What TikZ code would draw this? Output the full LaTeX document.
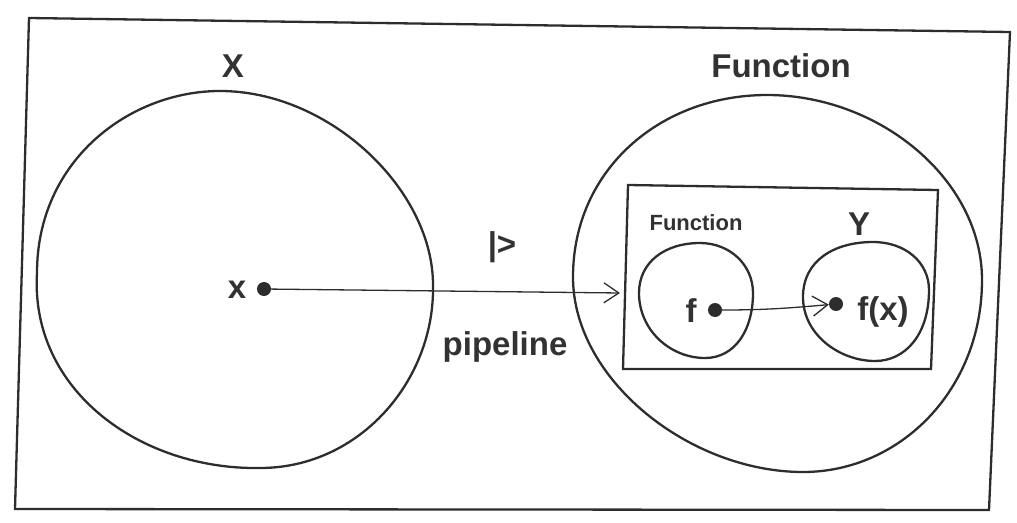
\documentclass[tikz,border=0pt]{standalone}
\usepackage{fontspec}
\setmainfont{Liberation Sans}
\usetikzlibrary{arrows.meta}
\definecolor{inkGray}{RGB}{45, 45, 45}
\definecolor{textGray}{RGB}{50, 50, 50}

\begin{document}
\begin{tikzpicture}[x=1pt, y=-1pt]
    \tikzstyle{blob} = [draw=inkGray, line width=2.3pt]
    \tikzstyle{frame} = [draw=inkGray, line width=2.3pt]
    \tikzstyle{dot} = [circle, fill=inkGray, inner sep=0pt, minimum width=13pt, minimum height=14pt]
    \tikzstyle{biglabel} = [font=\fontsize{33}{36}\selectfont\bfseries, textGray, anchor=base, inner sep=0pt]
    \tikzstyle{smalllabel} = [font=\fontsize{22}{26}\selectfont\bfseries, textGray, anchor=base, inner sep=0pt]
    \tikzstyle{arrow} = [-{Straight Barb[length=15pt, width=20pt, line width=1.3pt]}, inkGray, line width=1.3pt]

    \useasboundingbox (0,0) rectangle (1017,522);

    % Outer frame
    \draw[frame] (29,18) -- (1010,32) -- (989,510) -- (15,509) -- cycle;

    % Left set X
    \draw[blob] (220,91) .. controls (330,91) and (433,190) .. (433,285)
        .. controls (435,380) and (360,468) .. (260,468)
        .. controls (140,470) and (30,390) .. (37,273)
        .. controls (37,160) and (130,91) .. cycle;

    % Right set Function
    \draw[blob] (767,95) .. controls (880,95) and (982,180) .. (982,280)
        .. controls (982,390) and (900,472) .. (803,472)
        .. controls (690,472) and (573,380) .. (573,277)
        .. controls (573,170) and (660,95) .. cycle;

    % Inner box
    \draw[frame] (628,185) -- (938,190) -- (931,369) -- (623,369) -- cycle;
    \coordinate (boxin) at (620,293);

    % Inner sets
    \draw[blob] (700,243) .. controls (730,243) and (753,265) .. (753,293)
        .. controls (753,330) and (735,358) .. (705,358)
        .. controls (670,358) and (639,330) .. (639,293)
        .. controls (639,262) and (665,243) .. cycle;
    \draw[blob] (873,242) .. controls (905,242) and (929,262) .. (929,290)
        .. controls (929,335) and (905,361) .. (875,361)
        .. controls (840,361) and (803,335) .. (803,297)
        .. controls (803,260) and (835,242) .. cycle;

    % Points
    \node[dot] (xdot) at (264,289) {};
    \node[dot] (fdot) at (715,310) {};
    \node[dot] (ydot) at (836,304) {};

    % Labels
    \node[biglabel] (setx) at (233,77) {X};
    \node[biglabel] (setfun) at (781,77) {Function};
    \node[smalllabel] (innerfun) at (696,230) {Function};
    \node[biglabel] (sety) at (859,235) {Y};
    \node[biglabel] (xlab) at (237,298) {x};
    \node[biglabel] (flab) at (691,322) {f};
    \node[biglabel] (fxlab) at (883,320) {f(x)};
    \node[biglabel] (pipe) at (502,255) {|>};
    \node[biglabel] (pipeline) at (505,355) {pipeline};

    % Arrows
    \draw[arrow] (xdot) -- (boxin);
    \draw[arrow] (fdot) to[out=0, in=185] (ydot);
\end{tikzpicture}
\end{document}
